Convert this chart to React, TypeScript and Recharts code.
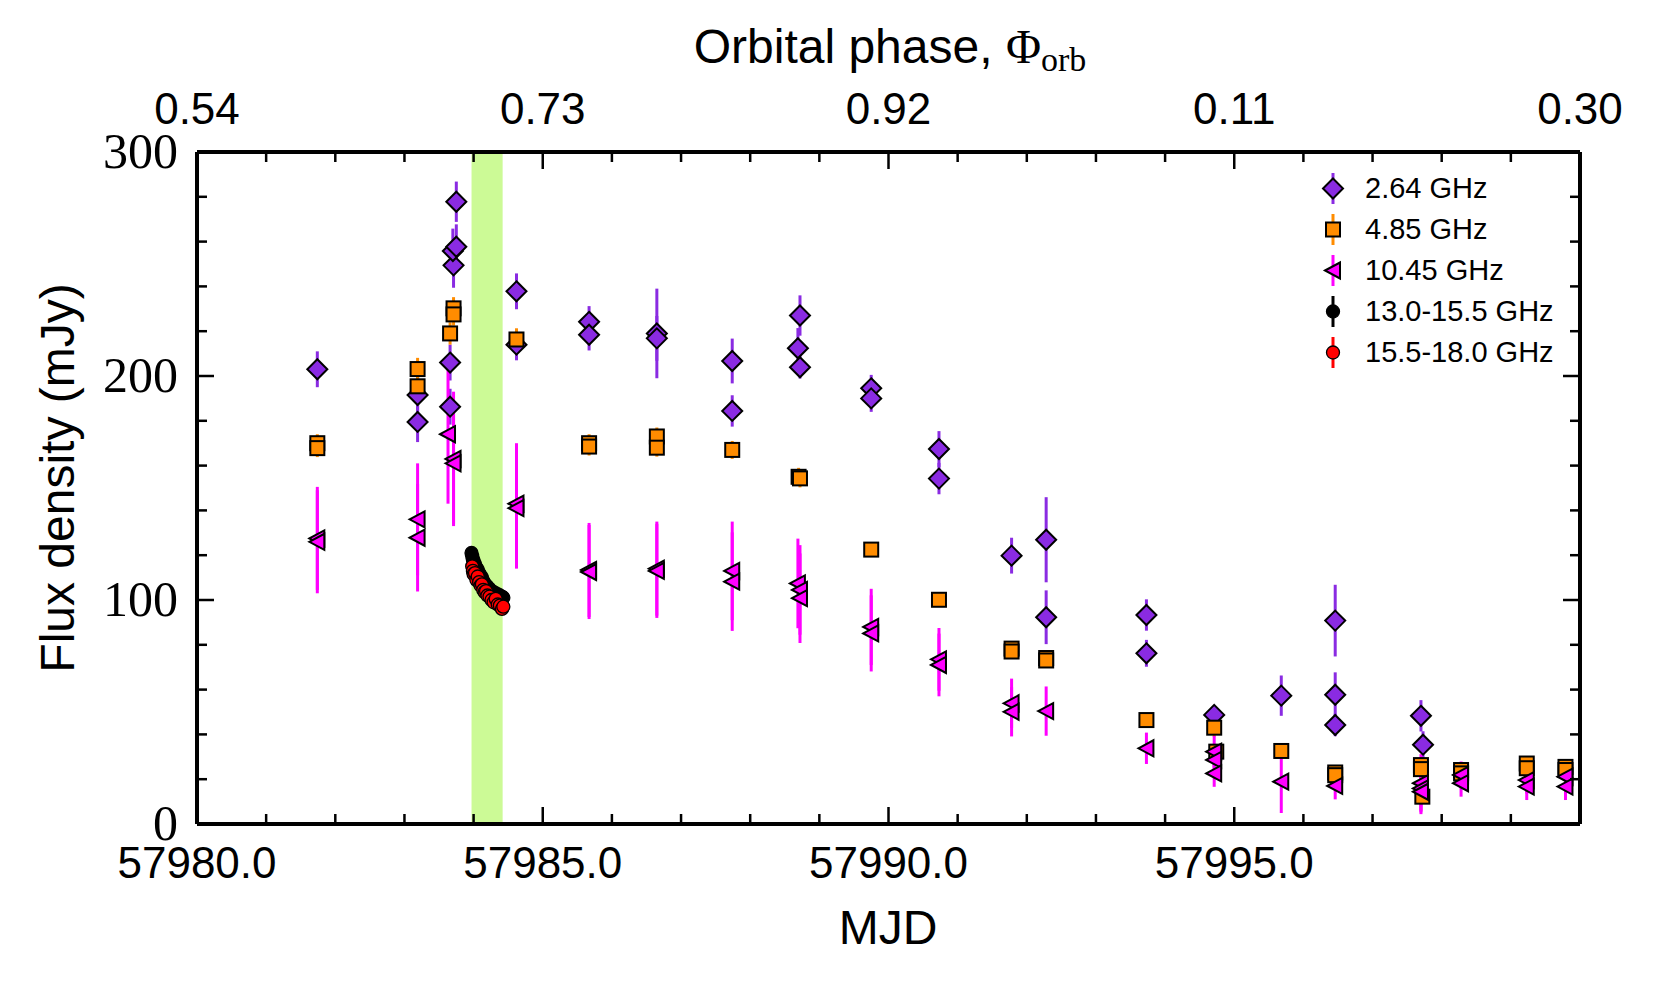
import React from 'react';
import { ScatterChart, Scatter, XAxis, YAxis, ErrorBar, ReferenceArea, Legend } from 'recharts';

const SANS = "'Liberation Sans', Arial, sans-serif";
const SERIF = "'Liberation Serif', 'Times New Roman', serif";

const VIOLET = '#8a2be2';
const ORANGE = '#ff8c00';
const MAGENTA = '#ff00ff';
const BAND = '#ccfa96';

// 2.64 GHz
const mjd264 = [57981.74, 57983.19, 57983.19, 57983.66, 57983.66, 57983.71, 57983.7, 57983.75, 57983.75, 57984.62, 57984.62, 57985.67, 57985.67, 57986.65, 57986.65, 57987.74, 57987.74, 57988.72, 57988.69, 57988.72, 57989.75, 57989.75, 57990.73, 57990.73, 57991.78, 57992.28, 57992.28, 57993.73, 57993.73, 57994.71, 57995.68, 57996.46, 57996.46, 57996.46, 57997.7, 57997.73];
const flux264 = [203, 191.5, 179.5, 206, 186.3, 249.4, 255.8, 257.7, 277.8, 237.8, 214, 224.2, 218.4, 219, 216.8, 206.7, 184.4, 227, 212.4, 203.9, 194.5, 190, 167.4, 154.2, 119.8, 126.9, 92.3, 93.3, 76.2, 48.7, 57.3, 90.8, 57.7, 44.2, 48.3, 35.4];
const err264 = [8, 8, 9, 8, 8, 10, 10, 10, 9, 8, 7, 7, 7, 20, 10, 10, 7, 9, 9, 5, 6, 6, 8, 7, 8, 19, 12, 7, 6, 4, 9, 16, 10, 5, 7, 6];

// 4.85 GHz
const mjd485 = [57981.74, 57981.74, 57983.19, 57983.19, 57983.66, 57983.71, 57983.71, 57984.62, 57985.67, 57985.67, 57986.65, 57986.65, 57987.74, 57988.7, 57988.72, 57989.75, 57990.73, 57991.78, 57991.78, 57992.28, 57992.28, 57993.73, 57994.71, 57994.74, 57995.68, 57996.46, 57996.46, 57997.7, 57997.7, 57997.72, 57998.28, 57998.28, 57999.23, 57999.23, 57999.79, 57999.79];
const flux485 = [170, 167.8, 203.1, 195.4, 219, 230.2, 227.5, 216.3, 170, 168.5, 173, 168, 167, 155, 154.3, 122.5, 100.1, 78.3, 77, 74.1, 73, 46.4, 43, 32.3, 32.6, 23, 21.8, 26.3, 24.5, 12.2, 24.1, 22.6, 27, 24.9, 25.5, 24.1];
const err485 = [4, 4, 5, 5, 5, 5, 5, 5, 4, 4, 4, 4, 4, 4, 4, 3, 3, 3, 3, 3, 3, 3, 4, 3, 3, 3, 3, 3, 3, 3, 3, 3, 3, 3, 3, 3];

// 10.45 GHz
const mjd1045 = [57981.74, 57981.74, 57983.19, 57983.19, 57983.63, 57983.71, 57983.71, 57984.62, 57984.62, 57985.67, 57985.67, 57986.65, 57986.65, 57987.74, 57987.74, 57988.69, 57988.72, 57988.72, 57989.75, 57989.75, 57990.73, 57990.73, 57991.78, 57991.78, 57992.28, 57993.73, 57994.71, 57994.71, 57994.71, 57995.68, 57996.46, 57997.7, 57997.7, 57997.7, 57998.28, 57998.28, 57999.23, 57999.23, 57999.79, 57999.79];
const flux1045 = [127.5, 126, 136, 127.8, 174, 163, 161, 143, 141, 113.4, 112.5, 114, 113, 113, 108.2, 107.4, 104.5, 100.8, 88, 85.1, 73.5, 71, 53.9, 50.1, 50.4, 33.8, 32.3, 28.6, 22.6, 18.9, 17, 18.2, 15.9, 14.4, 21.9, 18.2, 19.6, 16.7, 21.1, 16.7];
const err1045 = [23, 23, 25, 24, 31, 30, 27, 27, 27, 21, 21, 21, 21, 22, 22, 20, 20, 20, 17, 17, 14, 14, 11, 11, 11, 7, 7, 7, 6, 14, 6, 13, 10, 10, 6, 6, 6, 6, 6, 6];

// 13.0-15.5 GHz
const mjdKu = [57983.97, 57983.98, 57983.99, 57984.0, 57984.02, 57984.04, 57984.06, 57984.08, 57984.1, 57984.12, 57984.14, 57984.16, 57984.18, 57984.2, 57984.23, 57984.26, 57984.29, 57984.32, 57984.35, 57984.38, 57984.41, 57984.43];
const fluxKu = [121, 119.5, 118, 117.5, 116, 114.5, 113.5, 112, 111, 110, 108.5, 107.5, 106.5, 106, 105, 104, 103.5, 103, 102.5, 102, 101.5, 101];

// 15.5-18.0 GHz
const mjdK = [57983.98, 57983.99, 57984.0, 57984.02, 57984.04, 57984.06, 57984.08, 57984.1, 57984.12, 57984.14, 57984.16, 57984.18, 57984.2, 57984.23, 57984.26, 57984.29, 57984.32, 57984.35, 57984.38, 57984.41, 57984.43];
const fluxK = [115, 113, 111.5, 112, 109, 110.5, 108, 106.5, 107, 104.5, 103.5, 104, 102, 101.5, 100, 99, 100.5, 98, 97.5, 96, 97];

const bandNames = ['2.64 GHz', '4.85 GHz', '10.45 GHz', '13.0-15.5 GHz', '15.5-18.0 GHz'];
const flareStart = 57983.97;
const flareEnd = 57984.42;

const xMinorTicks = Array.from({ length: 21 }, (_, i) => 57980 + i);
const xMajorTicks = [57980, 57985, 57990, 57995, 58000];
const mjdTickLabels = ['57980.0', '57985.0', '57990.0', '57995.0', ''];
const phaseTickLabels = ['0.54', '0.73', '0.92', '0.11', '0.30'];
const yMinorTicks = Array.from({ length: 16 }, (_, i) => i * 20);
const yTickLabels = ['0', '100', '200', '300'];

const toRows = (xs: number[], ys: number[], es?: number[]) =>
  xs.map((x, i) => ({ x, y: ys[i], err: es ? es[i] : 2 }));

const d264 = toRows(mjd264, flux264, err264);
const d485 = toRows(mjd485, flux485, err485);
const d1045 = toRows(mjd1045, flux1045, err1045);
const dKu = toRows(mjdKu, fluxKu);
const dK = toRows(mjdK, fluxK);

const Diamond = ({ cx, cy }: any) => (
  <polygon points={`${cx},${cy - 10} ${cx + 10},${cy} ${cx},${cy + 10} ${cx - 10},${cy}`} fill={VIOLET} stroke="#000" strokeWidth={2} />
);
const Square = ({ cx, cy }: any) => (
  <rect x={cx - 7} y={cy - 7} width={14} height={14} fill={ORANGE} stroke="#000" strokeWidth={2} />
);
const TriLeft = ({ cx, cy }: any) => (
  <polygon points={`${cx - 8},${cy} ${cx + 7},${cy - 8} ${cx + 7},${cy + 8}`} fill={MAGENTA} stroke="#000" strokeWidth={2} />
);
const Dot = ({ cx, cy, fill }: any) => <circle cx={cx} cy={cy} r={6.5} fill={fill} stroke="#000" strokeWidth={1.3} />;

const markers = [
  { color: VIOLET, draw: (cx: number, cy: number) => <Diamond cx={cx} cy={cy} /> },
  { color: ORANGE, draw: (cx: number, cy: number) => <Square cx={cx} cy={cy} /> },
  { color: MAGENTA, draw: (cx: number, cy: number) => <TriLeft cx={cx} cy={cy} /> },
  { color: '#000', draw: (cx: number, cy: number) => <Dot cx={cx} cy={cy} fill="#000" /> },
  { color: '#ff0000', draw: (cx: number, cy: number) => <Dot cx={cx} cy={cy} fill="#ff0000" /> },
];

const tickStroke = { stroke: '#000', strokeWidth: 2.5 };

const bottomTick = (p: any) => {
  const v = p.payload.value;
  const k = xMajorTicks.indexOf(v);
  return (
    <g>
      <line x1={p.x} x2={p.x} y1={p.y} y2={p.y - (k >= 0 ? 17 : 10)} {...tickStroke} />
      {k >= 0 && (
        <text x={p.x} y={p.y + 54} textAnchor="middle" fontFamily={SANS} fontSize={44} fill="#000">
          {mjdTickLabels[k]}
        </text>
      )}
    </g>
  );
};

const topTick = (p: any) => {
  const v = p.payload.value;
  const k = xMajorTicks.indexOf(v);
  return (
    <g>
      <line x1={p.x} x2={p.x} y1={p.y} y2={p.y + (k >= 0 ? 17 : 10)} {...tickStroke} />
      {k >= 0 && (
        <text x={p.x} y={p.y - 28} textAnchor="middle" fontFamily={SANS} fontSize={44} fill="#000">
          {phaseTickLabels[k]}
        </text>
      )}
    </g>
  );
};

const leftTick = (p: any) => {
  const v = p.payload.value;
  const major = v % 100 === 0;
  return (
    <g>
      <line x1={p.x} x2={p.x + (major ? 17 : 10)} y1={p.y} y2={p.y} {...tickStroke} />
      {major && (
        <text x={p.x - 19} y={p.y} dy="0.32em" textAnchor="end" fontFamily={SERIF} fontSize={50} fill="#000">
          {yTickLabels[v / 100]}
        </text>
      )}
    </g>
  );
};

const rightTick = (p: any) => {
  const major = p.payload.value % 100 === 0;
  return <line x1={p.x} x2={p.x - (major ? 17 : 10)} y1={p.y} y2={p.y} {...tickStroke} />;
};

const renderLegend = () => (
  <div style={{ fontFamily: SANS, fontSize: 29, color: '#000' }}>
    {bandNames.map((name, i) => (
      <div key={name} style={{ display: 'flex', alignItems: 'center', height: 41 }}>
        <svg width={36} height={41} style={{ display: 'block' }}>
          <line x1={18} x2={18} y1={5} y2={36} stroke={markers[i].color} strokeWidth={3} />
          {markers[i].draw(18, 20.5)}
        </svg>
        <span style={{ marginLeft: 14, whiteSpace: 'nowrap' }}>{name}</span>
      </div>
    ))}
  </div>
);

export default function App() {
  return (
    <ScatterChart width={1640} height={970} margin={{ top: 0, right: 0, bottom: 0, left: 0 }}>
      <ReferenceArea x1={flareStart} x2={flareEnd} y1={0} y2={300} fill={BAND} fillOpacity={1} stroke="none" />
      <XAxis
        type="number"
        dataKey="x"
        domain={[57980, 58000]}
        allowDataOverflow
        ticks={xMinorTicks}
        interval={0}
        height={154}
        tickSize={0}
        tickMargin={0}
        tick={bottomTick}
        axisLine={{ stroke: '#000', strokeWidth: 4 }}
        label={(p: any) => (
          <text x={880} y={936} textAnchor="middle" fontFamily={SANS} fontSize={48} fill="#000">
            MJD
          </text>
        )}
      />
      {/* same MJD scale as the bottom axis, labelled with orbital phase */}
      <XAxis
        xAxisId="top"
        orientation="top"
        type="number"
        dataKey="x"
        domain={[57980, 58000]}
        allowDataOverflow
        ticks={xMinorTicks}
        interval={0}
        height={144}
        tickSize={0}
        tickMargin={0}
        tick={topTick}
        axisLine={{ stroke: '#000', strokeWidth: 4 }}
        label={(p: any) => (
          <text x={882} y={55} textAnchor="middle" fontSize={48} fill="#000">
            <tspan fontFamily={SANS}>Orbital phase, </tspan>
            <tspan fontFamily={SERIF}>Φ</tspan>
            <tspan fontFamily={SERIF} fontSize={34} dy={8}>orb</tspan>
          </text>
        )}
      />
      <YAxis
        type="number"
        dataKey="y"
        domain={[0, 300]}
        allowDataOverflow
        ticks={yMinorTicks}
        interval={0}
        width={189}
        tickSize={0}
        tickMargin={0}
        tick={leftTick}
        axisLine={{ stroke: '#000', strokeWidth: 4 }}
        label={(p: any) => (
          <text x={66} y={470} transform="rotate(-90 66 470)" textAnchor="middle" fontFamily={SANS} fontSize={48} fill="#000">
            Flux density (mJy)
          </text>
        )}
      />
      <YAxis
        yAxisId="right"
        orientation="right"
        type="number"
        dataKey="y"
        domain={[0, 300]}
        allowDataOverflow
        ticks={yMinorTicks}
        interval={0}
        width={68}
        tickSize={0}
        tickMargin={0}
        tick={rightTick}
        axisLine={{ stroke: '#000', strokeWidth: 4 }}
      />
      <Scatter name={bandNames[0]} data={d264} shape={(p: any) => <Diamond {...p} />} isAnimationActive={false}>
        <ErrorBar dataKey="err" direction="y" width={0} stroke={VIOLET} strokeWidth={3} />
      </Scatter>
      <Scatter name={bandNames[1]} data={d485} shape={(p: any) => <Square {...p} />} isAnimationActive={false}>
        <ErrorBar dataKey="err" direction="y" width={0} stroke={ORANGE} strokeWidth={3} />
      </Scatter>
      <Scatter name={bandNames[2]} data={d1045} shape={(p: any) => <TriLeft {...p} />} isAnimationActive={false}>
        <ErrorBar dataKey="err" direction="y" width={0} stroke={MAGENTA} strokeWidth={3} />
      </Scatter>
      <Scatter name={bandNames[3]} data={dKu} shape={(p: any) => <Dot {...p} fill="#000" />} isAnimationActive={false}>
        <ErrorBar dataKey="err" direction="y" width={0} stroke="#000" strokeWidth={2} />
      </Scatter>
      <Scatter
        name={bandNames[4]}
        data={dK}
        xAxisId="top"
        shape={(p: any) => <Dot {...p} fill="#ff0000" />}
        isAnimationActive={false}
      >
        <ErrorBar dataKey="err" direction="y" width={0} stroke="#ff0000" strokeWidth={2} />
      </Scatter>
      <Legend
        layout="vertical"
        align="center"
        verticalAlign="middle"
        content={renderLegend}
        wrapperStyle={{ position: 'absolute', left: 1307, top: 160, width: 270, height: 205 }}
      />
    </ScatterChart>
  );
}
